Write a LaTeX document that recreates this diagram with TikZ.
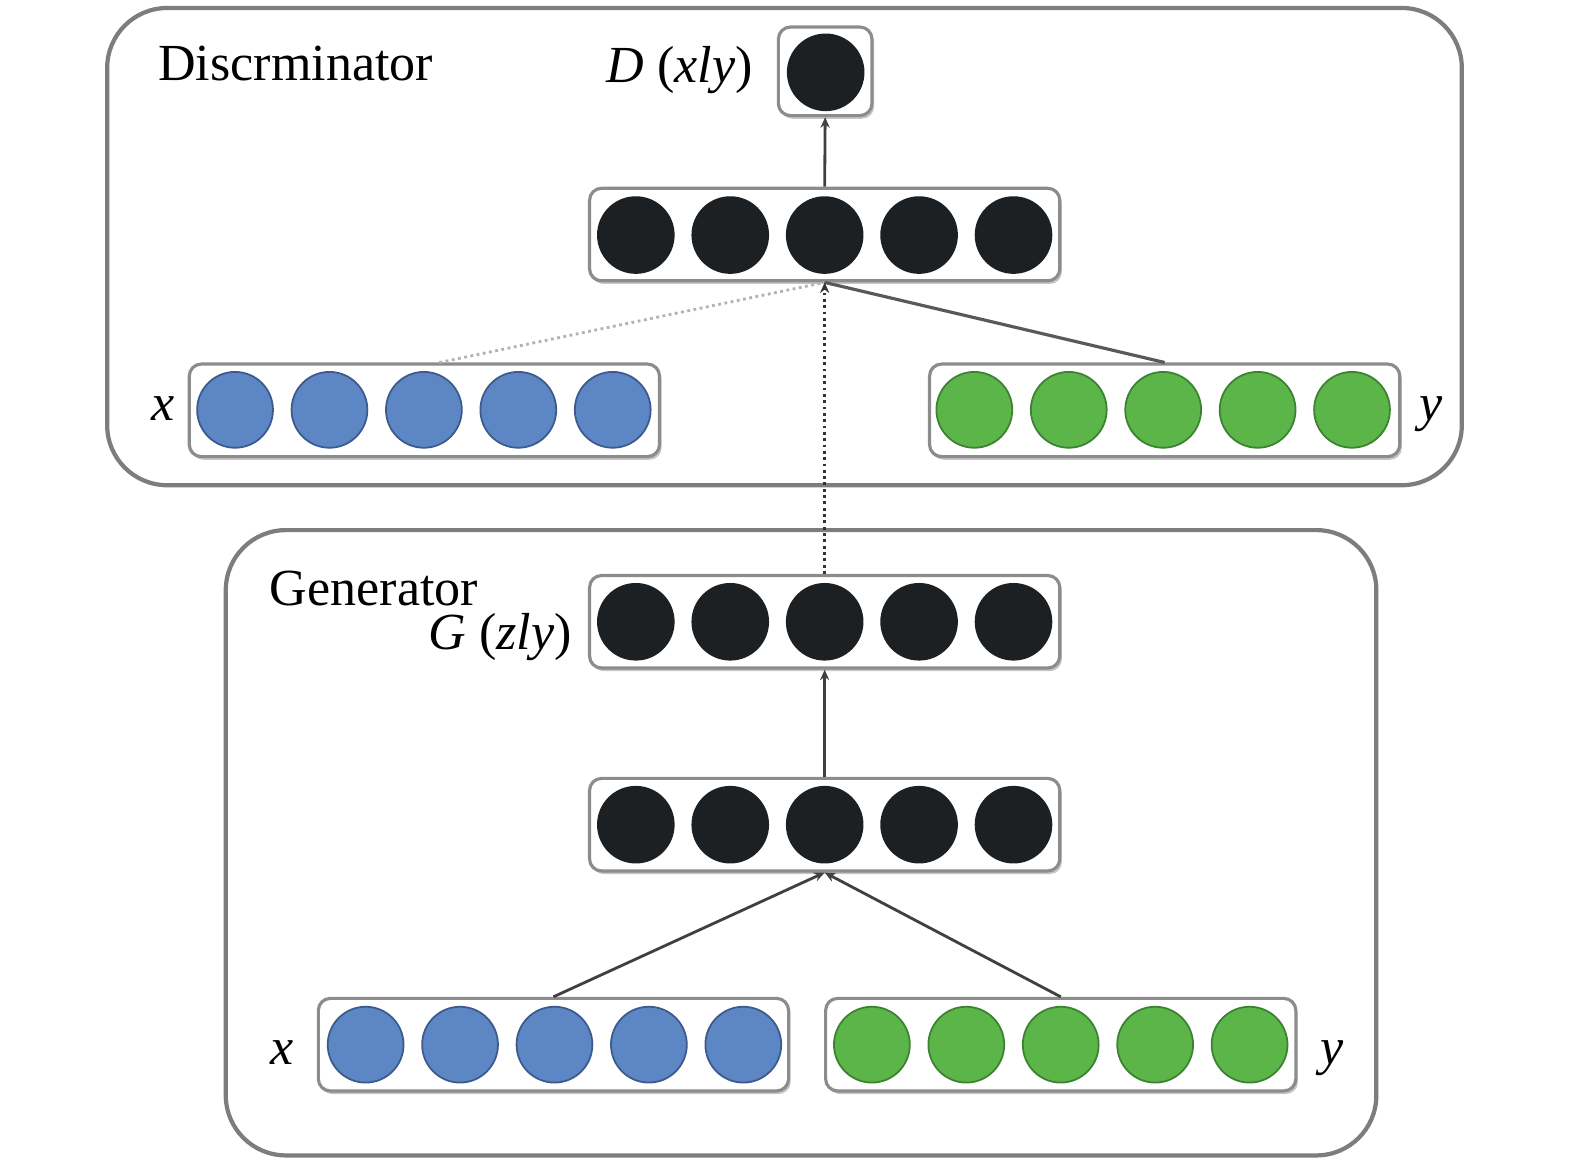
\documentclass[tikz,border=0pt]{standalone}
\usepackage{fontspec}
\setmainfont{Liberation Serif}
\usetikzlibrary{arrows.meta,shadows}
\definecolor{nblue}{RGB}{92,134,196}
\definecolor{nblueb}{RGB}{60,90,140}
\definecolor{ngreen}{RGB}{92,181,72}
\definecolor{ngreenb}{RGB}{60,130,50}
\definecolor{nblack}{RGB}{28,32,35}
\definecolor{frame}{RGB}{125,125,125}
\definecolor{lbox}{RGB}{140,140,140}
\tikzset{
  outerbox/.style={draw=frame, line width=1.2pt, rounded corners=0.6cm, inner sep=0},
  layerbox/.style={draw=lbox, line width=0.9pt, rounded corners=0.12cm, fill=white, inner sep=0,
     minimum width=4.70cm, minimum height=0.925cm,
     drop shadow={shadow xshift=0.6pt, shadow yshift=-0.9pt, fill=gray!45, opacity=1}},
  neuron/.style={circle, minimum size=0.758cm, inner sep=0, line width=0.5pt},
  bneuron/.style={neuron, fill=nblack, draw=nblack},
  blneuron/.style={neuron, fill=nblue, draw=nblueb},
  gnneuron/.style={neuron, fill=ngreen, draw=ngreenb},
  lbl/.style={font=\fontsize{14.8}{17}\selectfont, inner sep=0},
  conn/.style={line width=0.8pt, draw=black!75, -{Stealth[length=3pt,width=2.6pt]}},
}
\begin{document}
\begin{tikzpicture}[x=0.010045cm,y=-0.010045cm]
\useasboundingbox (0,0) rectangle (1568,1158);
% outer frames
\node[outerbox, minimum width=13.54cm, minimum height=4.77cm] (disc) at (781,245.5) {};
\node[outerbox, minimum width=11.50cm, minimum height=6.25cm] (gen) at (797.5,839) {};
% layer boxes
\node[layerbox, minimum width=0.935cm, minimum height=0.885cm] (dout) at (821.5,71) {};
\node[layerbox] (dhid) at (821,233.5) {};
\node[layerbox] (dx) at (422.5,408.5) {};
\node[layerbox] (dy) at (1159.5,408.5) {};
\node[layerbox] (gout) at (821,619) {};
\node[layerbox] (ghid) at (821,821) {};
\node[layerbox] (gx) at (551,1040) {};
\node[layerbox] (gy) at (1056,1040) {};
% neurons
\node[bneuron] (do1) at (822,72) {};
\foreach \i/\x in {1/633,2/727,3/821,4/915,5/1009}{
  \node[bneuron] (dh\i) at (\x,234) {};
  \node[bneuron] (go\i) at (\x,619) {};
  \node[bneuron] (gh\i) at (\x,821) {};
}
\foreach \i/\x in {1/234,2/328,3/422,4/516,5/610}{
  \node[blneuron] (dx\i) at (\x,408) {};
}
\foreach \i/\x in {1/970,2/1064,3/1158,4/1252,5/1346}{
  \node[gnneuron] (dy\i) at (\x,408) {};
}
\foreach \i/\x in {1/364,2/458,3/552,4/646,5/740}{
  \node[blneuron] (gx\i) at (\x,1040) {};
}
\foreach \i/\x in {1/868,2/962,3/1056,4/1150,5/1244}{
  \node[gnneuron] (gy\i) at (\x,1040) {};
}
% texts
\node[lbl, anchor=base west] (tdisc) at (157,80) {Discrminator};
\node[lbl, anchor=base east] (tdout) at (750,82) {\textit{D} (\textit{xly})};
\node[lbl, anchor=base west] (tgen) at (268,603) {Generator};
\node[lbl, anchor=base east] (tgout) at (570,647) {\textit{G} (\textit{zly})};
\node[lbl, anchor=base] (tdx) at (162,419) {\textit{x}};
\node[lbl, anchor=base] (tdy) at (1425,419) {\textit{y}};
\node[lbl, anchor=base] (tgx) at (281,1060) {\textit{x}};
\node[lbl, anchor=base] (tgy) at (1326,1060) {\textit{y}};
% connectors
\coordinate (dxtop) at ([xshift=0.15cm]dx.north);
\draw[conn] (dhid.north) -- (dout.south);
\draw[line width=0.8pt, draw=black!30, densely dotted] (dxtop) -- (dhid.south);
\draw[line width=0.9pt, draw=black!65] (dy.north) -- (dhid.south);
\draw[conn, densely dotted, draw=black!80] (gout.north) -- (dhid.south);
\draw[conn] (ghid.north) -- (gout.south);
\draw[conn] (gx.north) -- (ghid.south);
\draw[conn] (gy.north) -- (ghid.south);
\end{tikzpicture}
\end{document}
